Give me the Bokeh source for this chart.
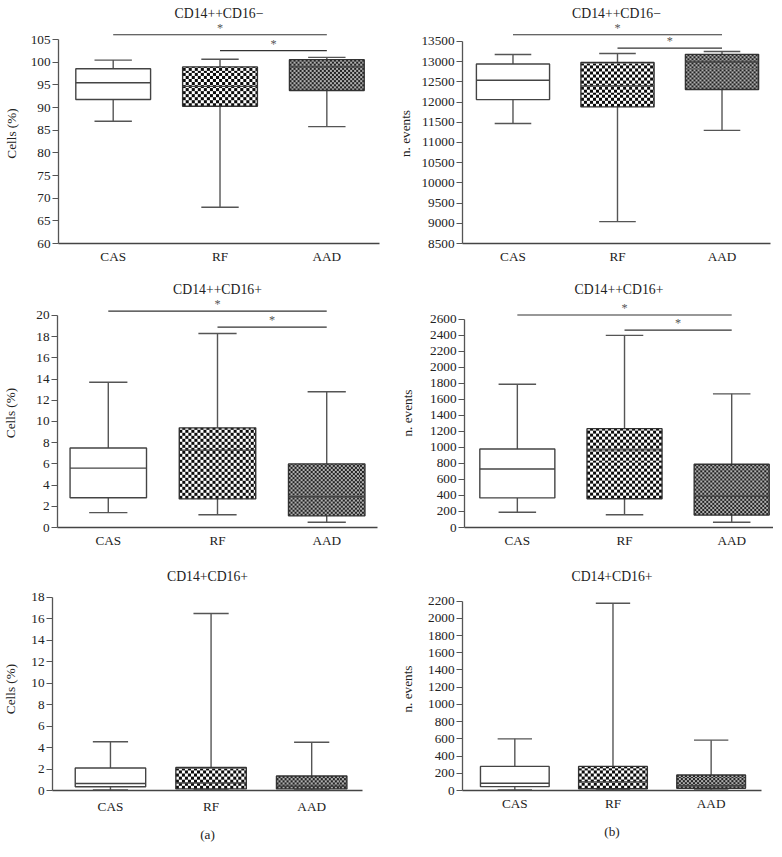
import numpy as np
from bokeh.plotting import figure
from bokeh.layouts import column, row
from bokeh.models import Range1d, FixedTicker
from bokeh.embed import file_html
from bokeh.resources import INLINE

categories = ["CAS", "RF", "AAD"]
sig_pairs = [("CAS", "AAD"), ("RF", "AAD")]

# (a) top: CD14++CD16-  Cells (%)
a1_low = [87.0, 68.0, 85.8]
a1_q1 = [91.8, 90.3, 93.8]
a1_med = [95.5, 94.7, 99.0]
a1_q3 = [98.6, 99.0, 100.6]
a1_high = [100.5, 100.7, 101.1]
a1_ticks = [60, 65, 70, 75, 80, 85, 90, 95, 100, 105]
a1_sig = [106.1, 102.6]

# (b) top: CD14++CD16-  n. events
b1_low = [11470, 9040, 11300]
b1_q1 = [12060, 11880, 12310]
b1_med = [12540, 12400, 12990]
b1_q3 = [12940, 12980, 13180]
b1_high = [13175, 13200, 13250]
b1_ticks = [8500, 9000, 9500, 10000, 10500, 11000, 11500, 12000, 12500, 13000, 13500]
b1_sig = [13665, 13335]

# (a) middle: CD14++CD16+  Cells (%)
a2_low = [1.4, 1.2, 0.5]
a2_q1 = [2.8, 2.7, 1.1]
a2_med = [5.6, 7.3, 2.9]
a2_q3 = [7.5, 9.4, 6.0]
a2_high = [13.7, 18.3, 12.8]
a2_ticks = [0, 2, 4, 6, 8, 10, 12, 14, 16, 18, 20]
a2_sig = [20.4, 18.9]

# (b) middle: CD14++CD16+  n. events
b2_low = [190, 160, 65]
b2_q1 = [370, 360, 155]
b2_med = [730, 970, 390]
b2_q3 = [980, 1235, 790]
b2_high = [1790, 2400, 1670]
b2_ticks = [0, 200, 400, 600, 800, 1000, 1200, 1400, 1600, 1800, 2000, 2200, 2400, 2600]
b2_sig = [2655, 2467]

# (a) bottom: CD14+CD16+  Cells (%)
a3_low = [0.05, 0.05, 0.05]
a3_q1 = [0.35, 0.15, 0.15]
a3_med = [0.65, 0.7, 0.4]
a3_q3 = [2.1, 2.15, 1.35]
a3_high = [4.55, 16.5, 4.5]
a3_ticks = [0, 2, 4, 6, 8, 10, 12, 14, 16, 18]

# (b) bottom: CD14+CD16+  n. events
b3_low = [5, 5, 5]
b3_q1 = [45, 20, 25]
b3_med = [85, 100, 55]
b3_q3 = [280, 280, 180]
b3_high = [600, 2175, 585]
b3_ticks = [0, 200, 400, 600, 800, 1000, 1200, 1400, 1600, 1800, 2000, 2200]

FONT = "Liberation Serif"
K = 1.017
fills = [None, (3, (12, 12, 12), (255, 255, 255)), (2, (35, 35, 35), (175, 175, 175))]


def S(v):
    return int(round(v * K))


def fs(v):
    return "%.2fpx" % (v * K)


def checker(w, h, cell, c1, c2):
    w = max(int(round(w)), 1)
    h = max(int(round(h)), 1)
    yy, xx = np.mgrid[0:h, 0:w]
    mask = ((xx // cell + yy // cell) % 2) == 0
    img = np.empty((h, w), dtype=np.uint32)
    view = img.view(dtype=np.uint8).reshape((h, w, 4))
    view[mask] = list(c1) + [255]
    view[~mask] = list(c2) + [255]
    return img


def make_panel(title, ylabel, low, q1, med, q3, high, ticks, sig, xlab, lay):
    xs = [i + 1 for i in range(len(categories))]
    W, H = S(lay["W"]), S(lay["H"])
    L, R, T, B = S(lay["L"]), S(lay["R"]), S(lay["T"]), S(lay["B"])
    p = figure(width=W, height=H,
               x_range=Range1d(lay["x0"], lay["x1"]),
               y_range=Range1d(ticks[0], lay["ytop"]),
               output_backend="svg", toolbar_location=None,
               min_border_left=L, min_border_right=R,
               min_border_top=T, min_border_bottom=B,
               background_fill_color="white", border_fill_color="white",
               outline_line_color=None)
    p.grid.visible = False
    pxx = (W - L - R) / (lay["x1"] - lay["x0"])
    pxy = (H - T - B) / (lay["ytop"] - ticks[0])
    bw = 0.7
    cw = 0.35
    wc = "#555555"
    p.segment(x0=xs, y0=q3, x1=xs, y1=high, line_color=wc, line_width=1.4)
    p.segment(x0=xs, y0=q1, x1=xs, y1=low, line_color=wc, line_width=1.4)
    p.segment(x0=[x - cw / 2 for x in xs], y0=high, x1=[x + cw / 2 for x in xs], y1=high,
              line_color=wc, line_width=1.4)
    p.segment(x0=[x - cw / 2 for x in xs], y0=low, x1=[x + cw / 2 for x in xs], y1=low,
              line_color=wc, line_width=1.4)
    for i, x in enumerate(xs):
        f = fills[i]
        if f is not None:
            img = checker(bw * pxx, (q3[i] - q1[i]) * pxy, f[0], f[1], f[2])
            p.image_rgba(image=[img], x=x - bw / 2, y=q1[i], dw=bw, dh=q3[i] - q1[i])
            p.vbar(x=[x], width=bw, bottom=[q1[i]], top=[q3[i]], fill_color=None,
                   line_color="#333333", line_width=1.4)
        else:
            p.vbar(x=[x], width=bw, bottom=[q1[i]], top=[q3[i]], fill_color="white",
                   line_color="#444444", line_width=1.4)
    p.segment(x0=[x - bw / 2 for x in xs], y0=med, x1=[x + bw / 2 for x in xs], y1=med,
              line_color="#444444", line_width=1.4)
    for (a, b), yv in zip(sig_pairs, sig):
        xa = xs[categories.index(a)]
        xb = xs[categories.index(b)]
        p.segment(x0=[xa], y0=[yv], x1=[xb], y1=[yv], line_color="#333333", line_width=1.2)
        p.text(x=[(xa + xb) / 2], y=[yv], text=["*"], text_align="center",
               text_baseline="middle", y_offset=-7, text_font_size=fs(12),
               text_color="#555555", text_font={"value": FONT})
    p.xaxis.ticker = FixedTicker(ticks=xs)
    p.xaxis.major_label_overrides = {x: c for x, c in zip(xs, categories)}
    p.xaxis.major_tick_out = 0
    p.xaxis.major_tick_in = 0
    p.xaxis.minor_tick_out = 0
    p.xaxis.minor_tick_in = 0
    p.xaxis.major_label_standoff = S(lay["xs"])
    p.xaxis.axis_line_color = "#444444"
    p.xaxis.axis_line_width = 1.3
    if xlab:
        p.xaxis.axis_label = xlab
        p.xaxis.axis_label_standoff = S(10)
    p.yaxis.ticker = FixedTicker(ticks=ticks)
    p.yaxis.bounds = (ticks[0], ticks[-1])
    p.yaxis.major_tick_out = 6
    p.yaxis.major_tick_in = 0
    p.yaxis.minor_tick_out = 0
    p.yaxis.minor_tick_in = 0
    p.yaxis.major_label_standoff = 2
    p.yaxis.axis_label = ylabel
    p.yaxis.axis_label_standoff = S(lay["ys"])
    p.yaxis.axis_line_color = "#555555"
    p.yaxis.axis_line_width = 1.3
    p.yaxis.major_tick_line_color = "#555555"
    p.yaxis.major_tick_line_width = 1.2
    for ax in (p.xaxis[0], p.yaxis[0]):
        ax.major_label_text_font = FONT
        ax.major_label_text_font_size = fs(13)
        ax.major_label_text_color = "#222222"
        ax.axis_label_text_font = FONT
        ax.axis_label_text_font_size = fs(13)
        ax.axis_label_text_font_style = "normal"
        ax.axis_label_text_color = "#222222"
    p.title.text = title
    p.title.align = "center"
    p.title.text_font = FONT
    p.title.text_font_size = fs(13.5)
    p.title.text_font_style = "normal"
    p.title.text_color = "#222222"
    p.title.standoff = S(lay["ts"])
    return p


lay1 = dict(W=383, H=272, L=55, R=11, T=22, B=33, x0=0.488, x1=3.493, ytop=108.58, xs=5, ys=9, ts=6)
lay2 = dict(W=377, H=272, L=71, R=3, T=22, B=29, x0=0.517, x1=3.464, ytop=13943, xs=5, ys=5, ts=6)
lay3 = dict(W=383, H=280, L=55, R=13, T=21, B=34, x0=0.535, x1=3.465, ytop=21.6, xs=5, ys=15, ts=4)
lay4 = dict(W=377, H=280, L=73, R=0, T=21, B=32, x0=0.507, x1=3.39, ytop=2861, xs=5, ys=12, ts=4)
lay5 = dict(W=383, H=277, L=50, R=28, T=25, B=46, x0=0.424, x1=3.505, ytop=18.92, xs=8, ys=10, ts=8)
lay6 = dict(W=377, H=277, L=71, R=12, T=25, B=43, x0=0.467, x1=3.513, ytop=2358, xs=5, ys=10, ts=8)

p1 = make_panel("CD14++CD16\u2212", "Cells (%)", a1_low, a1_q1, a1_med, a1_q3, a1_high, a1_ticks, a1_sig, None, lay1)
p2 = make_panel("CD14++CD16\u2212", "n. events", b1_low, b1_q1, b1_med, b1_q3, b1_high, b1_ticks, b1_sig, None, lay2)
p3 = make_panel("CD14++CD16+", "Cells (%)", a2_low, a2_q1, a2_med, a2_q3, a2_high, a2_ticks, a2_sig, None, lay3)
p4 = make_panel("CD14++CD16+", "n. events", b2_low, b2_q1, b2_med, b2_q3, b2_high, b2_ticks, b2_sig, None, lay4)
p5 = make_panel("CD14+CD16+", "Cells (%)", a3_low, a3_q1, a3_med, a3_q3, a3_high, a3_ticks, [], "(a)", lay5)
p6 = make_panel("CD14+CD16+", "n. events", b3_low, b3_q1, b3_med, b3_q3, b3_high, b3_ticks, [], "(b)", lay6)

layout = column(row(p1, p2), row(p3, p4), row(p5, p6))
open("out.html", "w").write(file_html(layout, INLINE))
